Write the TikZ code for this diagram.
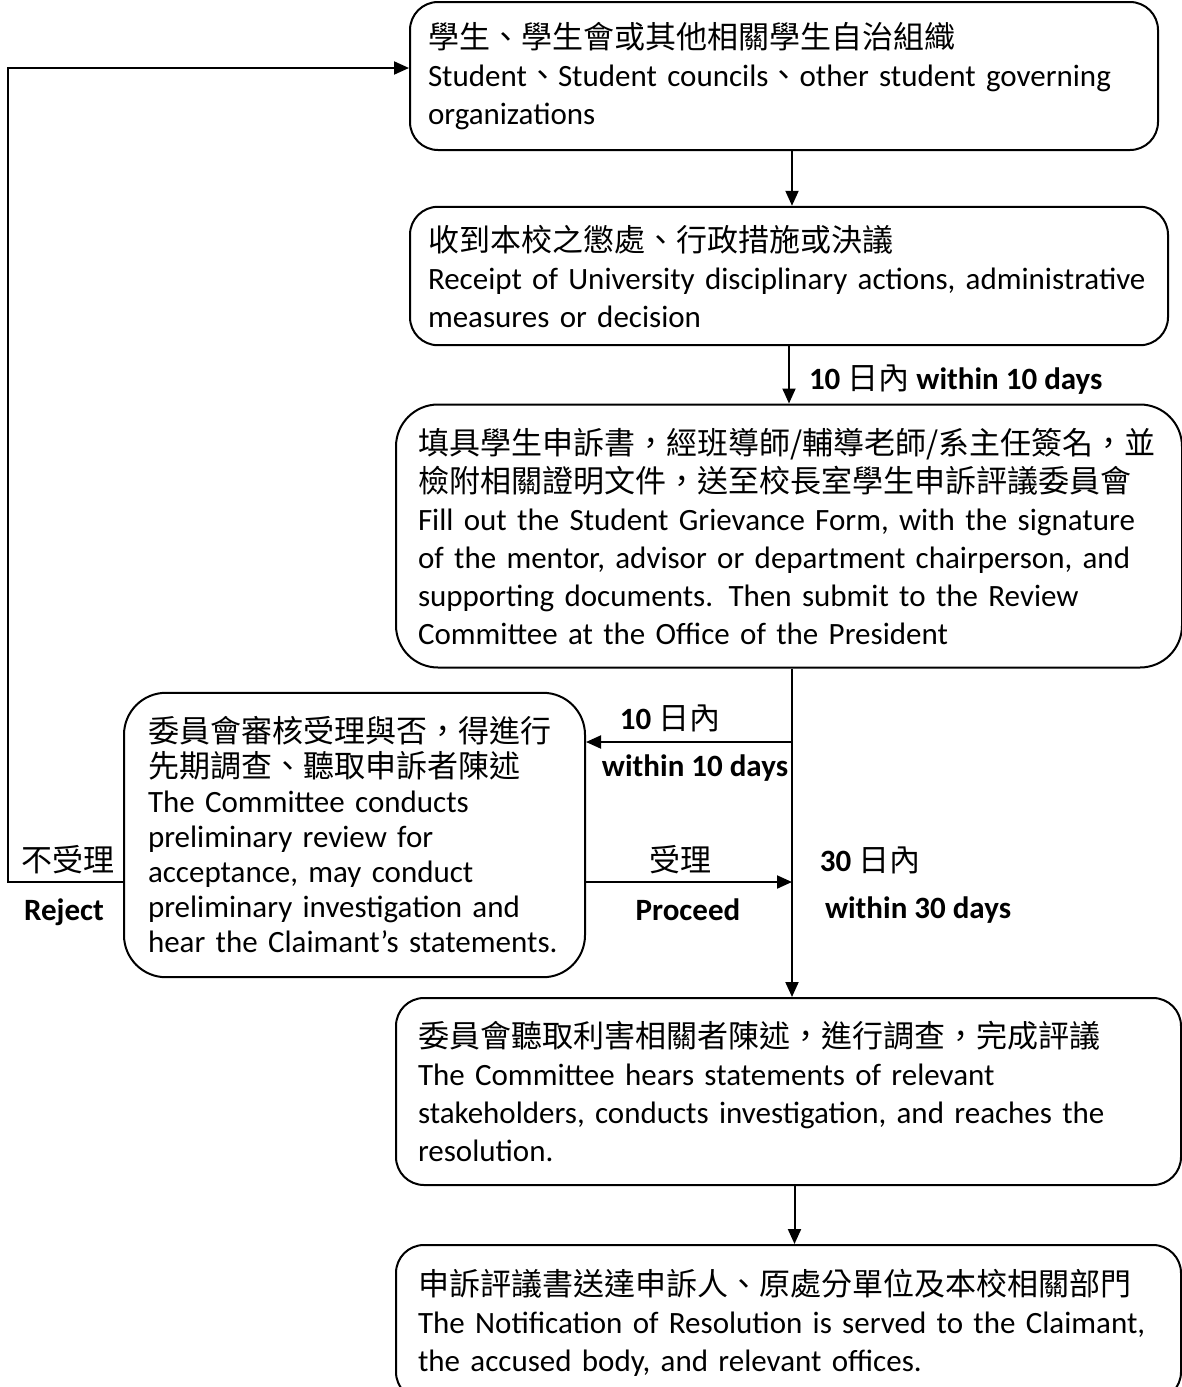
\documentclass[tikz,border=0pt]{standalone}
\usepackage{fontspec}
\setmainfont{Carlito}
\newfontfamily\cjk{Noto Sans CJK TC}
\usetikzlibrary{arrows.meta}

\begin{document}
\begin{tikzpicture}[x=1pt, y=-1pt, line width=2pt, >={Triangle[length=15pt,width=13pt]}]
        \tikzstyle{box} = [draw, rounded corners=28pt, align=left, inner sep=18pt, font=\fontsize{31}{38}\selectfont]
        \tikzstyle{lab} = [font=\fontsize{31}{36}\selectfont\bfseries, inner sep=0pt]
        \useasboundingbox (0,0) rectangle (1181,1387);

        \node[box, minimum width=748pt, minimum height=148pt, text width=712pt](s) at (784,76)
            {{\cjk 學生、學生會或其他相關學生自治組織}\\Student{\cjk 、}Student councils{\cjk 、}other student governing\\organizations};
        \node[box, minimum width=758pt, minimum height=132pt, text width=722pt](r) at (789,276)
            {{\cjk 收到本校之懲處、行政措施或決議}\\Receipt of University disciplinary actions, administrative\\measures or decision};
        \node[box, rounded corners=42pt, inner sep=22pt, minimum width=786pt, minimum height=263pt, text width=742pt](f) at (789,536)
            {{\cjk 填具學生申訴書，經班導師/輔導老師/系主任簽名，並}\\{\cjk 檢附相關證明文件，送至校長室學生申訴評議委員會}\\Fill out the Student Grievance Form, with the signature\\of the mentor, advisor or department chairperson, and\\supporting documents. Then submit to the Review\\Committee at the Office of the President};
        \node[box, rounded corners=42pt, inner sep=24pt, minimum width=461pt, minimum height=280pt, text width=413pt, font=\fontsize{31}{35}\selectfont](p) at (354.5,835)
            {{\cjk 委員會審核受理與否，得進行}\\{\cjk 先期調查、聽取申訴者陳述}\\The Committee conducts\\preliminary review for\\acceptance, may conduct\\preliminary investigation and\\hear the Claimant’s statements.};
        \node[box, inner sep=22pt, minimum width=785pt, minimum height=187pt, text width=741pt](c) at (788.5,1091.5)
            {{\cjk 委員會聽取利害相關者陳述，進行調查，完成評議}\\The Committee hears statements of relevant\\stakeholders, conducts investigation, and reaches the\\resolution.};
        \node[box, inner sep=22pt, minimum width=785pt, minimum height=155pt, text width=741pt](n) at (788.5,1322.5)
            {{\cjk 申訴評議書送達申訴人、原處分單位及本校相關部門}\\The Notification of Resolution is served to the Claimant,\\the accused body, and relevant offices.};

        \coordinate (j1) at (792,742);
        \coordinate (j2) at (792,882);
        \coordinate (back) at (8,68);

        \draw[->] ([xshift=8pt]s.south) -- ([xshift=8pt]s.south |- r.north);
        \draw[->] (r.south) -- (r.south |- f.north);
        \draw[->] (f.south -| j1) -- (c.north -| j1);
        \draw[->] (j1) -- (j1 -| p.east);
        \draw[->] (p.east |- j2) -- (j2);
        \draw[->] (p.west |- j2) -| (back) -- (back -| s.west);
        \draw[->] ([xshift=6pt]c.south) -- ([xshift=6pt]c.south |- n.north);

        \node[lab, anchor=west](l1) at (808,380) {10 {\cjk\mdseries 日內} within 10 days};
        \node[lab](l2) at (670,718) {10 {\cjk\mdseries 日內}};
        \node[lab](l3) at (695,768) {within 10 days};
        \node[lab](l4) at (680,860) {{\cjk\mdseries 受理}};
        \node[lab](l5) at (688,910) {Proceed};
        \node[lab](l6) at (870,860) {30 {\cjk\mdseries 日內}};
        \node[lab](l7) at (918,910) {within 30 days};
        \node[lab](l8) at (68,860) {{\cjk\mdseries 不受理}};
        \node[lab](l9) at (64,912) {Reject};
    \end{tikzpicture}
\end{document}
